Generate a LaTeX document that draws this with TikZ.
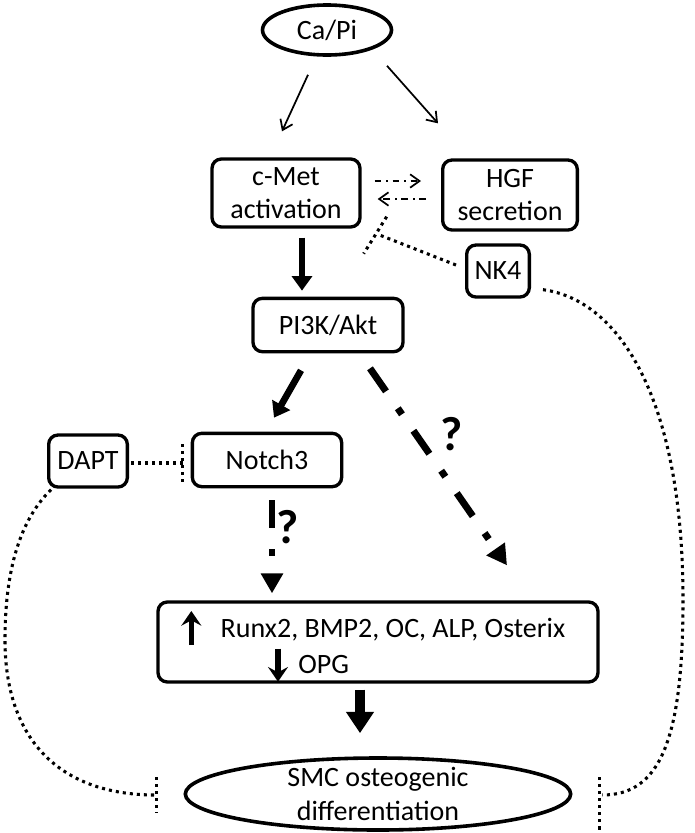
\documentclass[tikz,border=0pt]{standalone}
\usepackage{fontspec}
\setmainfont{Carlito}
\usepackage{tikz}
\usetikzlibrary{arrows.meta}
\usetikzlibrary{calc,shapes.geometric}

\begin{document}
\begin{tikzpicture}[x=0.75pt,y=-0.75pt]
\tikzstyle{box}=[rectangle, rounded corners=7pt, draw=black, line width=2.5pt, align=center, inner sep=0pt, font=\fontsize{21}{24.5}\selectfont]
\tikzstyle{oval}=[ellipse, draw=black, line width=2.7pt, align=center, inner xsep=0pt, inner ysep=-4pt, font=\fontsize{21}{26}\selectfont]
\tikzstyle{txt}=[inner sep=0pt, font=\fontsize{21}{24.5}\selectfont]
\tikzstyle{qmark}=[inner sep=0pt, font=\fontsize{36}{36}\selectfont\bfseries]
\tikzstyle{link}=[-{Straight Barb[length=7pt,width=10pt]}, line width=1.3pt]
\tikzstyle{dashlink}=[link, dash pattern=on 5pt off 3.5pt on 1.5pt off 3.5pt]
\tikzstyle{connect}=[-{Triangle[length=11pt,width=15pt]}, line width=5pt]
\tikzstyle{bigconnect}=[-{Triangle[length=16pt,width=20pt]}, line width=7.5pt]
\tikzstyle{maybe}=[-{Triangle[length=15pt,width=16pt]}, line width=5.2pt, dash pattern=on 21pt off 15.5pt on 5.5pt off 15pt]
\tikzstyle{updown}=[-{Stealth[length=11pt,width=15pt,inset=4pt]}, line width=4pt]
\tikzstyle{block}=[line width=2.3pt, dash pattern=on 2.3pt off 3pt]
  \useasboundingbox (0,0) rectangle (694,833);
  % nodes
  \node[oval, minimum width=96.75pt, minimum height=37.5pt] (capi) at (327,30) {Ca/Pi};
  \node[box, minimum width=111pt, minimum height=51pt] (cmet) at (286,193) {c-Met\\activation};
  \node[box, minimum width=101pt, minimum height=52.5pt] (hgf) at (510,195) {HGF\\secretion};
  \node[box, minimum width=47pt, minimum height=39pt] (nk4) at (498,271) {NK4};
  \node[box, minimum width=112.5pt, minimum height=40pt] (pi3k) at (328,325) {PI3K/Akt};
  \node[box, minimum width=112pt, minimum height=40pt] (notch) at (267,460) {Notch3};
  \node[box, minimum width=59pt, minimum height=39pt] (dapt) at (88,461) {DAPT};
  \node[box, minimum width=330pt, minimum height=60pt] (genes) at (378,642) {};
  \node[txt, anchor=base west] (runx) at ($(genes.west)+(64,-5)$) {Runx2, BMP2, OC, ALP, Osterix};
  \node[txt, anchor=base west] (opg) at ($(genes.south)+(-80,-10)$) {OPG};
  \node[oval, minimum width=289pt, minimum height=54pt] (smc) at (378,794) {SMC osteogenic\\differentiation};
  \node[qmark] (q1) at (452,434) {?};
  \node[qmark] (q2) at (288,527) {?};
  % arrows
  \draw[link] ($(capi.south)+(-19,18)$) -- ($(cmet.north)+(-4,-26)$);
  \draw[link] ($(capi.south)+(60,9)$) -- ($(hgf.north)+(-72,-35)$);
  \draw[dashlink] ($(cmet.east)+(13,-12)$) -- ($(hgf.west)+(-20,-14)$);
  \draw[dashlink] ($(hgf.west)+(-15,4)$) -- ($(cmet.east)+(16,6)$);
  \draw[connect] ($(cmet.south)+(16,9)$) -- ($(pi3k.north)+(-26,-6)$);
  \draw[connect] ($(pi3k.south)+(-27,17)$) -- ($(notch.north)+(7,-14)$);
  \draw[maybe] ($(pi3k.south)+(42,15)$) -- ($(genes.north)+(129,-35)$);
  \draw[maybe] ($(notch.south)+(5,12)$) -- ($(genes.north)+(-106,-7)$);
  \draw[updown] ($(genes.west)+(35,3)$) -- ($(genes.west)+(35,-31)$);
  \draw[updown] ($(genes.south)+(-100,-35)$) -- ($(genes.south)+(-100,-2)$);
  \draw[bigconnect] ($(genes.south)+(-18,6)$) -- ($(smc.north)+(-18,-23)$);
  % inhibitions
  \draw[block] ($(nk4.west)+(-9,-6)$) -- ($(cmet.south east)+(17,6)$) coordinate (nkbar);
  \draw[block] ($(nkbar)+(8,-18)$) -- ($(nkbar)+(-15,19)$);
  \draw[block] ($(dapt.east)+(2,2)$) -- ($(notch.west)+(-8,3)$) coordinate (dbar);
  \draw[block] ($(dbar)+(0,-19)$) -- ($(dbar)+(0,19)$);
  \draw[block] ($(dapt.south west)+(4,1)$) .. controls (20,520) and (5,570) .. (5,640)
        .. controls (5,740) and (60,795) .. ($(smc.west)+(-28,1)$) coordinate (lbar);
  \draw[block] ($(lbar)+(1,-18)$) -- ($(lbar)+(1,18)$);
  \draw[block] ($(nk4.south east)+(12,-9)$) .. controls (620,300) and (683,400) .. (683,600)
        .. controls (683,740) and (660,795) .. ($(smc.east)+(30,1)$) coordinate (rbar);
  \draw[block] ($(rbar)+(-3,-18)$) -- ($(rbar)+(-3,35)$);
\end{tikzpicture}
\end{document}
